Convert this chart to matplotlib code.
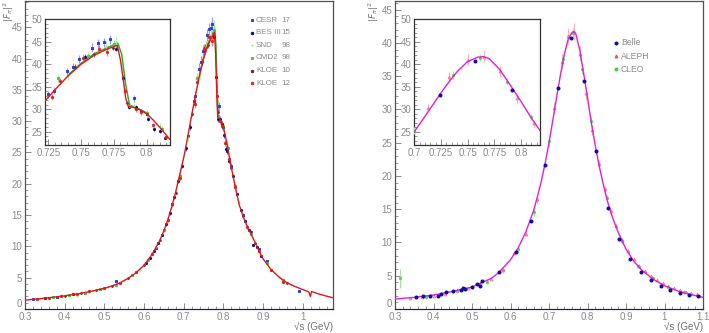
import matplotlib
matplotlib.use("Agg")
import matplotlib.pyplot as plt
import matplotlib.transforms as mtransforms
from matplotlib.ticker import MultipleLocator, FixedLocator
import numpy as np

plt.rcParams['font.family'] = ['Liberation Sans', 'DejaVu Sans']

# ---------------- Left panel data (e+e- -> pi+pi-) ----------------
fit_x = [0.30,0.32,0.34,0.36,0.38,0.40,0.42,0.44,0.46,0.48,0.50,0.52,0.54,0.56,0.58,0.60,0.62,0.64,0.65,0.66,0.67,0.68,0.69,0.70,0.71,0.72,0.73,0.74,0.75,0.76,0.77,0.7776,0.780,0.782,0.784,0.786,0.79,0.795,0.80,0.805,0.81,0.818,0.83,0.84,0.85,0.86,0.87,0.88,0.89,0.90,0.92,0.94,0.96,0.98,1.00,1.015,1.019,1.022,1.04,1.06,1.076]
fit_y = [1.4,1.55,1.65,1.8,1.95,2.1,2.3,2.5,2.75,3.0,3.3,3.7,4.2,4.9,5.8,7.0,8.7,11.0,12.5,14.3,16.4,18.8,21.5,24.2,27.5,31.0,34.3,37.4,40.0,42.0,43.4,44.2,41.0,37.0,32.5,30.6,30.4,29.9,29.0,27.6,26.0,23.2,19.4,16.6,14.7,13.2,11.9,10.6,9.2,8.0,6.3,5.1,4.2,3.6,3.1,2.75,2.0,2.8,2.4,2.05,1.8]

fit2_x = [0.74,0.75,0.76,0.77,0.778,0.781,0.784,0.787,0.79,0.80]
fit2_y = [37.6,40.2,42.3,43.7,44.7,42.2,35.5,30.9,30.6,29.2]

cesr_x = [0.32,0.35,0.38,0.42,0.45,0.49,0.53,0.57,0.61,0.63,0.65,0.67,0.69,0.71,0.725,0.7293,0.7395,0.7436,0.7486,0.758,0.763,0.7675,0.772,0.79,0.80,0.82,0.85,0.87,0.89,0.91,0.95,0.99]
cesr_y = [1.6,1.75,1.95,2.35,2.6,3.2,4.4,5.4,7.9,9.8,12.6,16.8,21.2,27.6,33.3,34.1,38.4,39.5,41.2,43.7,44.7,44.9,45.6,32.4,29.0,22.8,15.0,12.3,9.6,7.6,4.6,2.8]

bes_x = [0.605,0.615,0.625,0.635,0.645,0.655,0.665,0.675,0.685,0.695,0.705,0.715,0.753,0.777,0.7817,0.7868,0.7919,0.796,0.801,0.8056,0.810,0.814,0.825,0.835,0.845,0.855,0.865,0.875,0.885,0.895]
bes_y = [7.3,8.2,9.3,10.5,11.8,13.5,15.3,17.9,20.4,22.8,25.7,29.1,41.7,43.5,37.0,30.4,30.4,29.6,27.8,25.6,25.2,23.7,21.2,18.3,15.8,14.0,12.6,10.3,9.9,8.5]

snd_x = [0.39,0.43,0.47,0.51,0.55,0.59,0.63,0.67,0.71,0.74,0.769,0.777,0.79,0.81,0.84,0.88,0.94,0.97]
snd_y = [2.2,2.0,2.9,3.5,4.6,6.3,9.9,16.5,27.4,37.5,44.0,45.0,30.7,26.3,16.9,10.6,5.1,3.8]

cmd2_x = [0.37,0.41,0.45,0.49,0.53,0.57,0.61,0.65,0.69,0.7326,0.755,0.775,0.787,0.80,0.812,0.83,0.87,0.91,0.95]
cmd2_y = [1.9,2.2,2.6,3.2,3.9,5.4,7.9,12.6,21.3,36.9,41.9,44.6,30.8,29.2,25.7,19.6,12.0,7.3,4.6]

kloe10_x = [0.35,0.40,0.44,0.48,0.52,0.56,0.60,0.64,0.68,0.72,0.745,0.76,0.774,0.785,0.80,0.82,0.85,0.88,0.92,0.96]
kloe10_y = [1.7,2.1,2.5,3.0,3.7,4.9,7.0,11.0,18.6,31.2,39.5,42.2,43.6,31.5,29.0,22.6,14.8,10.5,6.2,4.2]

kloe12_x = [0.33,0.36,0.39,0.43,0.46,0.50,0.54,0.58,0.62,0.66,0.69,0.7276,0.734,0.7517,0.764,0.770,0.7835,0.7918,0.796,0.8046,0.8148,0.83,0.86,0.89,0.92,0.95]
kloe12_y = [1.6,1.8,2.0,2.4,2.8,3.3,4.2,5.9,8.8,14.2,21.0,32.8,36.3,41.5,43.4,42.8,34.0,30.1,29.3,26.5,23.9,19.5,13.1,9.3,6.3,4.3]

left_labels = ["CESR", "BES III", "SND", "CMD2", "KLOE", "KLOE"]
left_years = ["17", "15", "98", "98", "10", "12"]

# ---------------- Right panel data (tau decays) ----------------
fitr_x = [0.30,0.35,0.40,0.45,0.50,0.55,0.57,0.60,0.62,0.64,0.66,0.67,0.68,0.69,0.70,0.71,0.72,0.73,0.74,0.75,0.76,0.765,0.77,0.78,0.79,0.80,0.81,0.82,0.83,0.84,0.85,0.86,0.87,0.88,0.90,0.92,0.94,0.97,1.00,1.04,1.07,1.10]
fitr_y = [1.5,1.75,2.1,2.65,3.3,4.6,5.5,7.4,9.2,11.6,14.8,16.9,19.2,21.9,25.0,28.4,31.9,35.3,38.3,40.6,41.6,41.7,41.3,38.9,35.4,31.8,28.0,24.6,21.6,19.0,16.6,14.6,13.0,11.5,9.0,7.2,5.9,4.5,3.5,2.6,2.15,1.75]

belle_x = [0.3545,0.372,0.391,0.411,0.419,0.432,0.4515,0.471,0.476,0.482,0.501,0.512,0.522,0.526,0.570,0.613,0.653,0.689,0.7237,0.7568,0.7917,0.822,0.854,0.8826,0.910,0.938,0.965,0.991,1.014,1.04,1.064,1.086]
belle_y = [1.74,2.0,1.9,2.0,2.3,2.5,2.75,2.9,3.1,3.0,3.3,3.8,3.5,4.25,5.6,8.5,13.2,21.7,33.2,40.7,34.3,23.8,15.2,10.5,7.5,5.6,4.4,3.4,2.9,2.4,2.15,1.9]

aleph_x = [0.34,0.37,0.40,0.43,0.46,0.49,0.52,0.55,0.58,0.61,0.64,0.67,0.7126,0.7325,0.7505,0.7653,0.780,0.796,0.812,0.83,0.845,0.86,0.875,0.89,0.905,0.92,0.935,0.95,0.965,0.98,0.995,1.01,1.025,1.04,1.055,1.07,1.085]
aleph_y = [1.6,1.8,2.0,2.3,2.9,3.1,3.9,4.5,5.9,8.4,11.3,16.5,30.2,37.2,41.0,41.7,38.4,32.4,26.9,21.8,18.0,14.8,12.5,10.3,8.7,7.5,6.5,5.7,5.0,4.4,3.9,3.4,3.1,2.8,2.6,2.4,2.2]

cleo_x = [0.313,0.38,0.42,0.46,0.50,0.54,0.58,0.62,0.66,0.70,0.736,0.762,0.787,0.81,0.85,0.89,0.93,0.97,1.01,1.05,1.09]
cleo_y = [4.6,1.8,2.2,2.7,3.3,4.1,5.8,9.0,14.6,25.2,37.6,41.5,36.1,28.2,16.7,10.2,6.5,4.6,3.3,2.6,2.0]
cleo_err = [1.4,0.3,0.3,0.3,0.3,0.3,0.4,0.5,0.6,0.8,0.8,0.8,0.8,0.7,0.5,0.4,0.3,0.3,0.3,0.3,0.3]

right_labels = ["Belle", "ALEPH", "CLEO"]

# ---------------- styling ----------------
TICK_COL = '#8a8a8a'
FRAME_COL = '#505050'
BOTTOM_COL = '#20206a'

left_series = [
    (cesr_x, cesr_y, 's', '#2a3ee0', '#a890f0', 1.6, 0.022),
    (bes_x, bes_y, 'o', '#0a0a80', '#6060c0', 1.5, 0.015),
    (snd_x, snd_y, '+', '#90e890', '#b0f0b0', 2.0, 0.025),
    (cmd2_x, cmd2_y, 's', '#40d040', '#90e890', 1.5, 0.02),
    (kloe10_x, kloe10_y, 'o', '#6a2a2a', '#a07070', 1.2, 0.012),
    (kloe12_x, kloe12_y, 'o', '#e82020', '#f08080', 1.6, 0.02),
]

fig = plt.figure(figsize=(7.09, 3.33), dpi=100)
W, H = 709.0, 333.0

def style_axes(ax, fs=7):
    for s in ['left', 'top', 'right']:
        ax.spines[s].set_color(FRAME_COL)
        ax.spines[s].set_linewidth(0.9)
    ax.spines['bottom'].set_color(BOTTOM_COL)
    ax.spines['bottom'].set_linewidth(0.9)
    ax.tick_params(which='both', direction='in', colors=TICK_COL, labelcolor=TICK_COL,
                   labelsize=fs, top=False, right=False, pad=2)
    ax.tick_params(which='major', length=4, width=0.7)
    ax.tick_params(which='minor', length=2, width=0.6)

def fmt_x(v):
    return ('%.3f' % v).rstrip('0').rstrip('.')

def lift_zero_label(ax):
    # nudge the "0" y label slightly up, as in the reference
    fig.canvas.draw()
    for lab in ax.get_yticklabels():
        if lab.get_text() in ('0', '−0'):
            lab.set_transform(lab.get_transform() +
                              mtransforms.ScaledTranslation(0, 4/72., fig.dpi_scale_trans))

def draw_left(ax):
    ax.plot(fit2_x, fit2_y, color='#30b030', lw=1.1, zorder=2)
    for (x, y, m, c, ec, ms, rel) in left_series:
        x = np.asarray(x); y = np.asarray(y)
        ax.errorbar(x, y, yerr=rel * y, fmt=m, color=c, ecolor=ec, ms=ms,
                    mew=0.7, elinewidth=0.8, capsize=0, zorder=3)
    ax.plot(fit_x, fit_y, color='#e01818', lw=1.0, zorder=4)

def draw_right(ax):
    ax.errorbar(cleo_x, cleo_y, yerr=cleo_err, fmt='o', color='#50d850', ecolor='#a0e8a0',
                ms=1.3, elinewidth=0.8, capsize=0, zorder=3)
    ay = np.asarray(aleph_y)
    ax.errorbar(aleph_x, aleph_y, yerr=0.03 * ay, fmt='^', color='#ff7070', ecolor='#ffb0b0',
                ms=2.0, mfc='none', mew=0.6, elinewidth=0.8, capsize=0, zorder=3)
    ax.plot(fitr_x, fitr_y, color='#e020d8', lw=1.0, zorder=4)
    ax.plot(belle_x, belle_y, 'o', color='#1010a0', ms=1.9, zorder=5)

# ---- Left main axes ----
axL = fig.add_axes([25/W, 1-309/H, 308/W, 308/H])
draw_left(axL)
axL.set_xlim(0.3, 1.076)
axL.set_ylim(0, 49.2)
xtL = [0.3,0.4,0.5,0.6,0.7,0.8,0.9,1.0]
axL.xaxis.set_major_locator(FixedLocator(xtL))
axL.xaxis.set_minor_locator(MultipleLocator(0.02))
axL.yaxis.set_major_locator(MultipleLocator(5))
axL.yaxis.set_minor_locator(MultipleLocator(1))
axL.set_xticklabels([fmt_x(v) for v in xtL])
style_axes(axL)

# ---- Right main axes ----
axR = fig.add_axes([395/W, 1-309/H, 308/W, 308/H])
draw_right(axR)
axR.set_xlim(0.3, 1.1)
axR.set_ylim(0, 46.3)
xtR = [0.3,0.4,0.5,0.6,0.7,0.8,0.9,1.0,1.1]
axR.xaxis.set_major_locator(FixedLocator(xtR))
axR.xaxis.set_minor_locator(MultipleLocator(0.02))
axR.yaxis.set_major_locator(MultipleLocator(5))
axR.yaxis.set_minor_locator(MultipleLocator(1))
axR.set_xticklabels([fmt_x(v) for v in xtR])
style_axes(axR)

# ---- Insets ----
insL = fig.add_axes([45/W, 1-145/H, 125/W, 125.7/H])
draw_left(insL)
insL.set_xlim(0.7225, 0.8178)
insL.set_ylim(22.05, 50)
insL.xaxis.set_major_locator(FixedLocator([0.725, 0.75, 0.775, 0.8]))
insL.set_xticklabels(['0.725', '0.75', '0.775', '0.8'])
insL.xaxis.set_minor_locator(MultipleLocator(0.005))
insL.yaxis.set_major_locator(MultipleLocator(5))
insL.yaxis.set_minor_locator(MultipleLocator(1))
style_axes(insL)
for s in insL.spines.values():
    s.set_color('#303030')

insR = fig.add_axes([414.3/W, 1-145/H, 125.7/W, 125.7/H])
draw_right(insR)
insR.set_xlim(0.7, 0.818)
insR.set_ylim(22.05, 50)
insR.xaxis.set_major_locator(FixedLocator([0.7, 0.725, 0.75, 0.775, 0.8]))
insR.set_xticklabels(['0.7', '0.725', '0.75', '0.775', '0.8'])
insR.xaxis.set_minor_locator(MultipleLocator(0.005))
insR.yaxis.set_major_locator(MultipleLocator(5))
insR.yaxis.set_minor_locator(MultipleLocator(1))
style_axes(insR)
for s in insR.spines.values():
    s.set_color('#303030')

# ---- Legends (drawn manually, ROOT style) ----
rowsL = [0.938, 0.897, 0.856, 0.815, 0.774, 0.733]
for (x, y, m, c, ec, ms, rel), lab, yr, ry in zip(left_series, left_labels, left_years, rowsL):
    axL.plot([0.736], [ry], marker=m, color=c, ms=1.8, mew=0.7,
             transform=axL.transAxes, clip_on=False, ls='none')
    axL.text(0.750, ry, lab, transform=axL.transAxes, fontsize=5.8, color=TICK_COL,
             va='center', ha='left')
    axL.text(0.862, ry, yr, transform=axL.transAxes, fontsize=5.8, color=TICK_COL,
             va='center', ha='right')

rowsR = [0.865, 0.821, 0.778]
legR = [('o', '#1010a0'), ('^', '#ff5050'), ('o', '#40d040')]
for (m, c), lab, ry in zip(legR, right_labels, rowsR):
    axR.plot([0.717], [ry], marker=m, color=c, ms=1.9, transform=axR.transAxes,
             clip_on=False, ls='none')
    axR.text(0.733, ry, lab, transform=axR.transAxes, fontsize=6.2, color=TICK_COL,
             va='center', ha='left')

# ---- Axis titles ----
fig.text(2/W, 1-1/H, r'$|F_\pi|^2$', rotation=90, fontsize=6.5, color='#707070',
         ha='left', va='top')
fig.text(367/W, 1-1/H, r'$|F_\pi|^2$', rotation=90, fontsize=6.5, color='#707070',
         ha='left', va='top')
fig.text(333/W, 1-327/H, '√s (GeV)', fontsize=7, color='#707070', ha='right', va='center')
fig.text(703/W, 1-327/H, '√s (GeV)', fontsize=7, color='#707070', ha='right', va='center')

lift_zero_label(axL)
lift_zero_label(axR)

fig.savefig('out.png', dpi=100)
